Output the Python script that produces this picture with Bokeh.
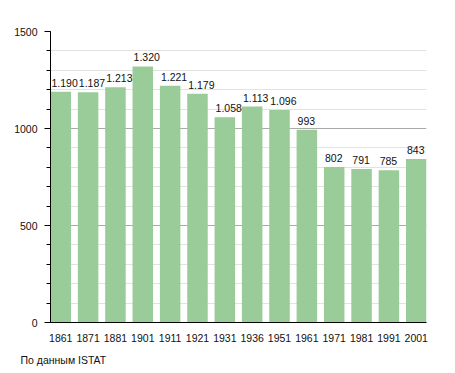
from bokeh.plotting import figure
from bokeh.models import ColumnDataSource, FixedTicker, Range1d, Title
from bokeh.core.properties import value
from bokeh.embed import file_html
from bokeh.resources import INLINE

years = ["1861", "1871", "1881", "1901", "1911", "1921", "1931", "1936", "1951", "1961", "1971", "1981", "1991", "2001"]
population = [1190, 1187, 1213, 1320, 1221, 1179, 1058, 1113, 1096, 993, 802, 791, 785, 843]
y_ticks = [0, 500, 1000, 1500]
footer = "По данным  ISTAT"

def fmt(v):
    return f"{v:,}".replace(",", ".")

BAR_W = 0.75
idx = list(range(len(years)))
src = ColumnDataSource(dict(x=idx, xl=[i - BAR_W / 2 for i in idx], y=population,
                            lab=[fmt(v) for v in population]))

FONT = "Liberation Sans"
p = figure(width=447, height=372, output_backend="svg", toolbar_location=None,
           x_range=Range1d(-BAR_W / 2, len(years) - 1 + BAR_W / 2), y_range=Range1d(0, 1500),
           min_border_left=50, min_border_right=21, min_border_top=31, min_border_bottom=20)
p.outline_line_color = None
p.background_fill_color = "white"

p.vbar(x="x", top="y", width=BAR_W, source=src, fill_color="#99CC99", line_color=None)
p.text(x="xl", y="y", text="lab", source=src, text_align="left", text_baseline="bottom",
       x_offset=1, y_offset=-5, text_font=value(FONT), text_font_size="10.5px", text_color="#111111")

# y axis
p.yaxis.ticker = FixedTicker(ticks=y_ticks, minor_ticks=list(range(0, 1501, 100)))
p.yaxis.axis_line_color = "black"
p.yaxis.major_tick_out = 6
p.yaxis.major_tick_in = 0
p.yaxis.minor_tick_out = 4
p.yaxis.minor_tick_in = 0
p.yaxis.major_label_text_font = FONT
p.yaxis.major_label_text_font_size = "10.5px"
p.yaxis.major_label_text_color = "#111111"
p.yaxis.major_label_standoff = 7

# x axis
p.xaxis.ticker = FixedTicker(ticks=idx)
p.xaxis.major_label_overrides = {i: y for i, y in zip(idx, years)}
p.xaxis.axis_line_color = "black"
p.xaxis.major_tick_line_color = None
p.xaxis.minor_tick_line_color = None
p.xaxis.major_label_text_font = FONT
p.xaxis.major_label_text_font_size = "10.5px"
p.xaxis.major_label_text_color = "#111111"
p.xaxis.major_label_standoff = 5

p.xgrid.grid_line_color = None
p.ygrid.grid_line_color = "#AAAAAA"
p.ygrid.minor_grid_line_color = "#E2E2E2"
p.ygrid.level = "underlay"

t = Title(text=footer, align="left", text_font=FONT, text_font_size="10.5px",
          text_font_style="normal", text_color="#111111", offset=-30, standoff=14)
p.add_layout(t, "below")

open("out.html", "w").write(file_html(p, INLINE))
